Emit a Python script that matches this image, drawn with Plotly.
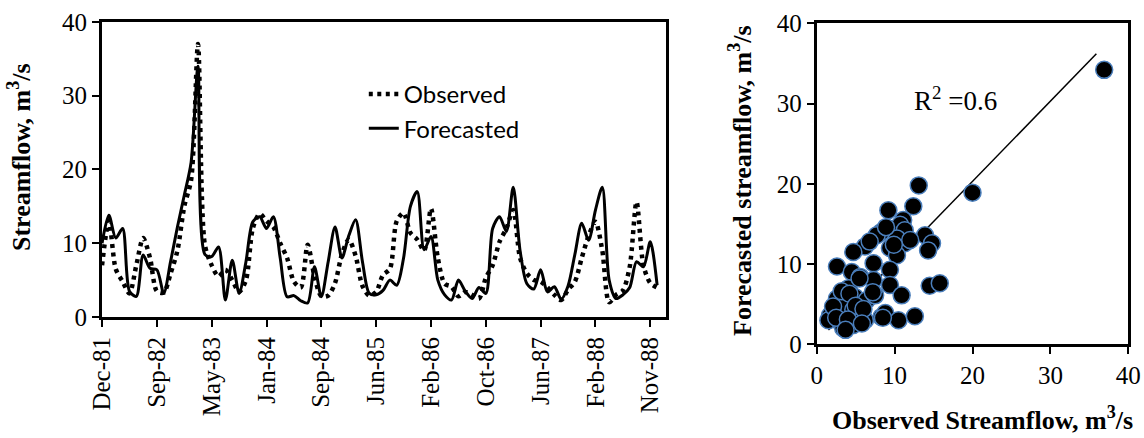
import numpy as np
import plotly.graph_objects as go

# ---- time series (left panel) ----
tick_labels = ["Dec-81", "Sep-82", "May-83", "Jan-84", "Sep-84", "Jun-85",
               "Feb-86", "Oct-86", "Jun-87", "Feb-88", "Nov-88"]

observed = [7.0, 13.0, 6.5, 4.8, 3.2, 7.0, 10.7, 8.0, 3.5, 3.3,
            5.9, 9.0, 15.0, 18.6, 37.0, 9.8, 7.0, 5.5, 6.4, 5.0,
            3.4, 5.0, 12.0, 14.0, 13.0, 12.2, 10.0, 8.0, 4.8, 4.0,
            9.8, 5.5, 2.8, 2.9, 4.6, 8.5, 10.5, 8.3, 4.2, 2.9,
            3.4, 5.7, 6.5, 13.0, 14.1, 11.4, 10.5, 9.0, 14.7, 8.0,
            4.5, 4.1, 2.8, 3.4, 3.0, 2.5, 5.3, 7.0, 10.2, 12.0,
            14.5, 8.0, 5.9, 5.0, 4.8, 4.0, 3.0, 2.3, 3.7, 4.8,
            8.0, 11.0, 12.9, 9.0, 2.0, 3.0, 3.6, 6.8, 15.6, 7.0,
            4.6, 4.0]

forecasted = [10.0, 13.8, 10.7, 12.0, 3.5, 2.8, 8.4, 6.6, 6.4, 3.2,
              7.5, 12.2, 16.5, 21.0, 34.0, 8.5, 8.2, 9.5, 2.3, 7.7,
              3.2, 7.5, 12.9, 13.6, 12.0, 13.6, 8.0, 2.75, 2.9, 2.2,
              1.9, 6.8, 2.75, 7.5, 12.2, 8.0, 11.0, 13.2, 7.5, 3.2,
              3.0, 3.6, 5.0, 4.3, 8.0, 15.0, 17.0, 9.1, 10.9, 5.0,
              3.0, 2.3, 5.0, 3.5, 2.5, 4.0, 3.2, 12.0, 13.6, 11.6,
              17.6, 9.0, 4.5, 3.8, 6.4, 3.4, 4.1, 2.4, 4.2, 8.5,
              12.7, 10.4, 14.5, 17.6, 5.0, 2.5, 3.0, 4.0, 7.5, 6.8,
              10.2, 4.3]

# ---- scatter (right panel) ----
scatter_obs = [36.9, 20.0, 13.1, 12.4, 9.2, 11.1, 10.7, 8.3, 7.7, 11.3,
               13.9, 14.8, 14.3, 11.3, 10.3, 6.2, 4.7, 9.4, 10.3, 7.3,
               2.6, 4.5, 9.4, 5.6, 7.3, 9.4, 14.5, 15.8, 4.1, 2.6,
               3.9, 4.9, 6.4, 7.5, 10.9, 3.6, 4.7, 1.7, 1.5, 3.0,
               3.4, 4.7, 6.2, 8.3, 8.8, 10.5, 12.6, 2.1, 5.3, 6.8,
               5.5, 3.2, 4.2, 5.0, 2.5, 4.0, 6.0, 3.7, 5.8, 8.9,
               12.0, 9.9, 7.2, 8.5]
scatter_fc = [34.2, 18.9, 19.8, 17.2, 16.7, 15.5, 14.9, 14.0, 13.6, 14.2,
              13.6, 12.6, 11.7, 12.6, 13.2, 12.2, 11.5, 12.0, 11.1, 10.1,
              9.7, 9.0, 9.3, 8.4, 8.0, 7.4, 7.3, 7.6, 7.0, 5.7,
              6.1, 5.9, 5.5, 6.1, 6.1, 4.9, 4.3, 3.6, 3.0, 2.8,
              2.0, 2.4, 3.0, 3.4, 3.9, 3.0, 3.5, 4.7, 3.6, 12.8,
              8.2, 6.6, 6.3, 4.8, 3.3, 3.1, 4.4, 1.8, 2.6, 14.6,
              13.0, 12.4, 6.5, 3.3]

# trend line: forecast = slope * observed + intercept
trend_slope = 1.0
trend_intercept = 0.3
trend_x_end = 35.9
r2_label = "R<sup>2</sup> =0.6"

idx = list(range(len(observed)))
tick_idx = list(range(0, 8 * len(tick_labels), 8))

tx = np.array([min(scatter_obs), trend_x_end])
ty = trend_slope * tx + trend_intercept

SERIF = "Liberation Serif"

fig = go.Figure()
fig.add_trace(go.Scatter(x=idx, y=observed, mode="lines", name="Observed",
                         line=dict(color="black", width=4.5, dash="4px,4.5px",
                                   shape="spline", smoothing=0.8),
                         xaxis="x", yaxis="y"))
fig.add_trace(go.Scatter(x=idx, y=forecasted, mode="lines", name="Forecasted",
                         line=dict(color="black", width=3, shape="spline", smoothing=0.8),
                         xaxis="x", yaxis="y"))
fig.add_trace(go.Scatter(x=tx, y=ty, mode="lines", showlegend=False,
                         line=dict(color="black", width=1.5),
                         xaxis="x2", yaxis="y2"))
fig.add_trace(go.Scatter(x=scatter_obs, y=scatter_fc, mode="markers", showlegend=False,
                         marker=dict(size=17, color="black",
                                     line=dict(color="#4a7ebb", width=1.5)),
                         xaxis="x2", yaxis="y2"))

axis_common = dict(showline=True, linecolor="black", linewidth=3, mirror=True,
                   showgrid=False, zeroline=False, ticks="outside",
                   tickcolor="black", tickwidth=2, ticklen=7, automargin=False,
                   tickfont=dict(family=SERIF, size=25, color="black"))

ann = dict(xref="paper", yref="paper", showarrow=False,
           xanchor="center", yanchor="middle")

fig.update_layout(
    width=1144, height=438,
    margin=dict(l=0, r=0, t=0, b=0),
    paper_bgcolor="white", plot_bgcolor="white",
    xaxis=dict(domain=[0.0892, 0.5822], range=[0, 82.3],
               tickmode="array", tickvals=tick_idx, ticktext=tick_labels,
               tickangle=-90, anchor="y", **axis_common),
    yaxis=dict(domain=[0.2763, 0.9498], range=[0, 40], dtick=10,
               anchor="x", **axis_common),
    xaxis2=dict(domain=[0.7139, 0.9863], range=[0, 40], dtick=10,
                anchor="y2", **axis_common),
    yaxis2=dict(domain=[0.2139, 0.9468], range=[0, 40], dtick=10,
                anchor="x2", **axis_common),
    showlegend=True,
    legend=dict(x=0.318, y=0.836, xanchor="left", yanchor="top",
                bgcolor="rgba(0,0,0,0)", borderwidth=0,
                font=dict(family="Lato", size=24, color="black"),
                tracegroupgap=0),
    annotations=[
        dict(text="<b>Streamflow, m<sup>3</sup>/s</b>",
             x=20 / 1144, y=1 - 157 / 438, textangle=-90,
             font=dict(family=SERIF, size=26, color="black"), **ann),
        dict(text="<b>Forecasted streamflow, m<sup>3</sup>/s</b>",
             x=741 / 1144, y=1 - 181 / 438, textangle=-90,
             font=dict(family=SERIF, size=26, color="black"), **ann),
        dict(text="<b>Observed Streamflow, m<sup>3</sup>/s</b>",
             x=982 / 1144, y=1 - 418 / 438,
             font=dict(family=SERIF, size=26, color="black"), **ann),
        dict(text=r2_label,
             x=955 / 1144, y=1 - 99 / 438,
             font=dict(family=SERIF, size=27, color="black"), **ann),
    ],
)

fig.write_html("out.html")
